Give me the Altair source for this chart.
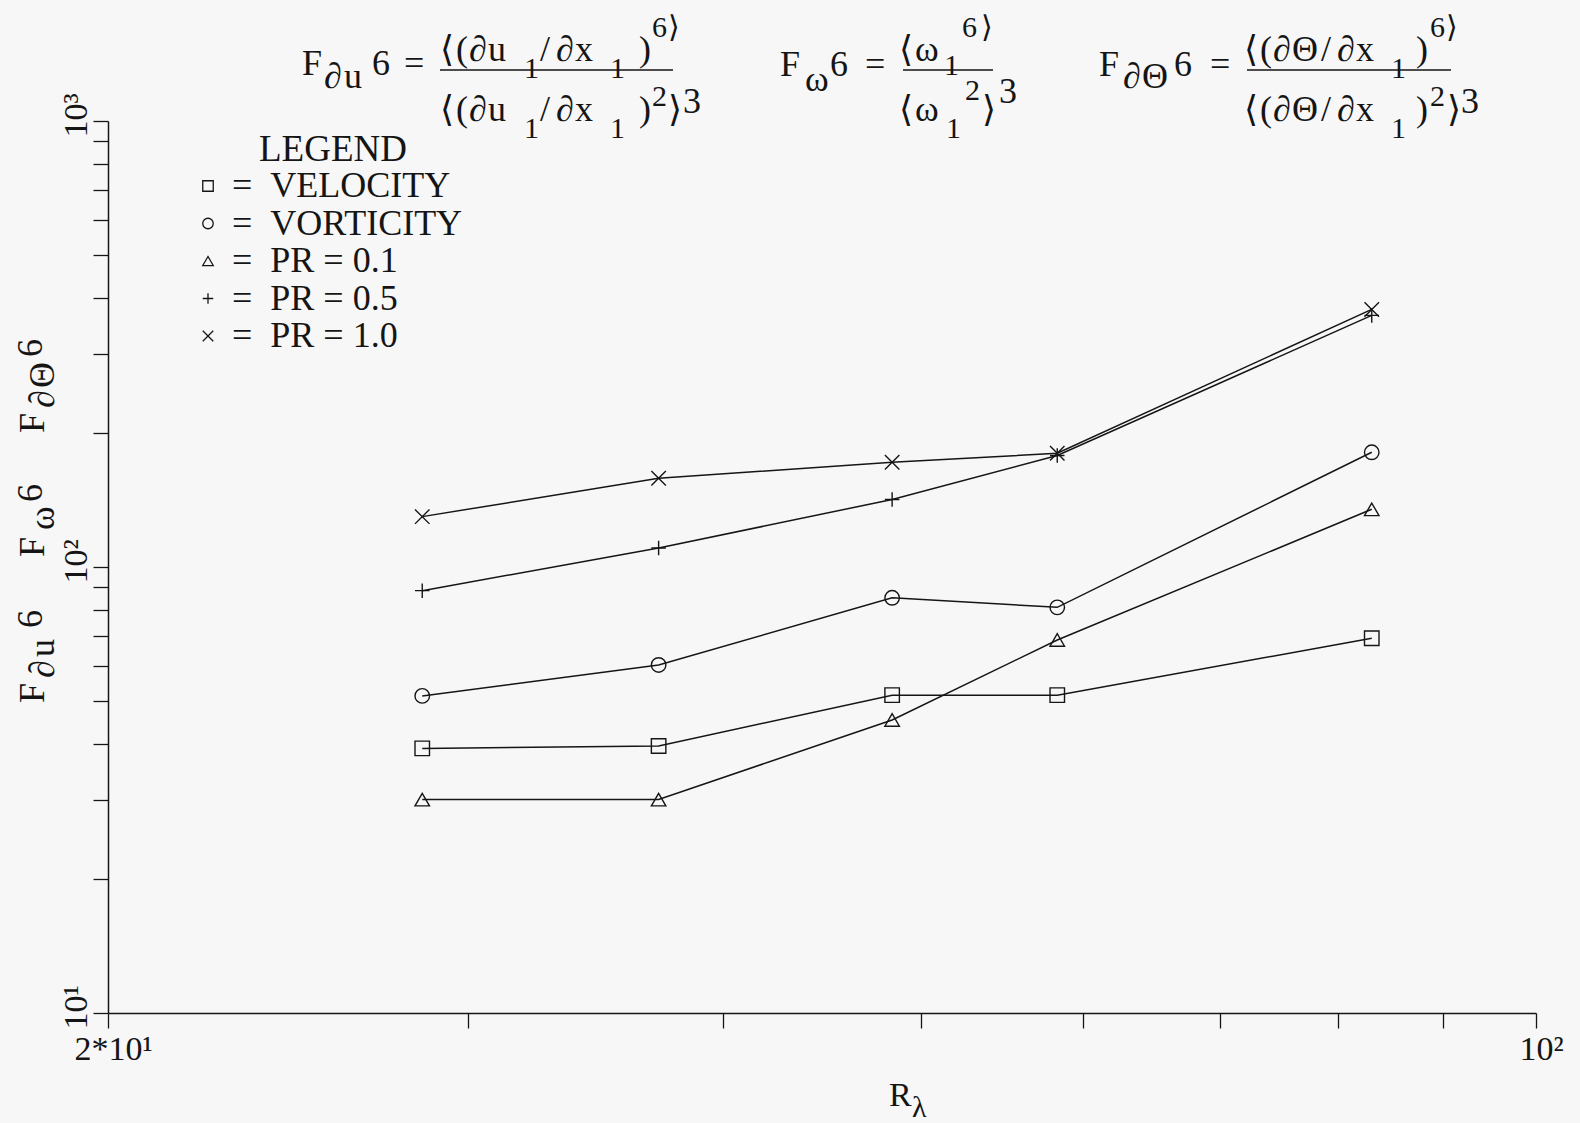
import altair as alt
import pandas as pd

# Taylor-microscale Reynolds numbers of the five simulations
r_lambda = [28.5, 37.2, 48.4, 58.3, 83.1]

# sixth-order normalized moments (flatness F6) of the derivative fields
velocity = [39.2, 39.7, 51.6, 51.6, 69.2]
vorticity = [51.4, 60.3, 85.3, 81.2, 180.8]
pr_01 = [30.1, 30.1, 45.4, 68.6, 134.7]
pr_05 = [88.5, 110.3, 141.7, 177.8, 366.5]
pr_10 = [129.7, 158.1, 171.7, 179.9, 378.1]

series_names = ["VELOCITY", "VORTICITY", "PR = 0.1", "PR = 0.5", "PR = 1.0"]
series_values = [velocity, vorticity, pr_01, pr_05, pr_10]

# marker shapes: square, circle, triangle, plus, cross
marker_shapes = [
    "square",
    "circle",
    "triangle-up",
    "M-1,0L1,0M0,-1L0,1",
    "M-1,-1L1,1M-1,1L1,-1",
]

x_ticks = [20, 30, 40, 50, 60, 70, 80, 90, 100]
y_ticks = [10, 20, 30, 40, 50, 60, 70, 80, 90,
           100, 200, 300, 400, 500, 600, 700, 800, 900, 1000]

rows = []
for name, vals in zip(series_names, series_values):
    for r, f in zip(r_lambda, vals):
        rows.append({"series": name, "re": r, "flat": f})
df = pd.DataFrame(rows)

# page geometry
LEFT, TOP = 108, 121
PLOT_W, PLOT_H = 1428, 892
FONT = "Liberation Serif, DejaVu Serif, serif"
INK = "#151515"
BG = "#f7f7f7"

M, S = 36, 30  # main and script sizes of the formula glyphs


def run(glyphs, y, size=M, angle=0):
    """glyphs: list of (text, x) placed on a common baseline y."""
    return [(t, x, y, size, angle) for t, x in glyphs]


pieces = []
# F_du^6 = <(du1/dx1)^6> / <(du1/dx1)^2>^3
pieces += run([("F", 302), ("6", 372), ("=", 404)], 75)
pieces += run([("∂", 324), ("u", 344)], 88)
pieces += run([("⟨", 440), ("(", 456), ("∂", 469), ("u", 488), ("/", 540),
               ("∂", 556), ("x", 575), (")", 639)], 61)
pieces += run([("1", 524), ("1", 610)], 78, S)
pieces += run([("6", 652), ("⟩", 668)], 37, S)
pieces += run([("⟨", 440), ("(", 456), ("∂", 469), ("u", 488), ("/", 540),
               ("∂", 556), ("x", 575), (")", 639), ("⟩", 668)], 121)
pieces += run([("1", 524), ("1", 610)], 138, S)
pieces += run([("2", 652)], 106, S)
pieces += run([("3", 683)], 113)
# F_w^6 = <w1^6> / <w1^2>^3
pieces += run([("F", 780), ("6", 830), ("=", 865)], 76)
pieces += run([("ω", 805)], 91)
pieces += run([("⟨", 899), ("ω", 915)], 61)
pieces += run([("1", 944)], 75, S)
pieces += run([("6", 962), ("⟩", 981)], 37, S)
pieces += run([("⟨", 899), ("ω", 915), ("⟩", 982)], 121)
pieces += run([("1", 946)], 138, S)
pieces += run([("2", 965)], 100, S)
pieces += run([("3", 999)], 103)
# F_dT^6 = <(dT/dx1)^6> / <(dT/dx1)^2>^3
pieces += run([("F", 1099), ("6", 1174), ("=", 1210)], 76)
pieces += run([("∂", 1123), ("Θ", 1142)], 88)
pieces += run([("⟨", 1244), ("(", 1260), ("∂", 1273), ("Θ", 1292), ("/", 1321),
               ("∂", 1337), ("x", 1356), (")", 1416)], 61)
pieces += run([("1", 1391)], 78, S)
pieces += run([("6", 1430), ("⟩", 1446)], 37, S)
pieces += run([("⟨", 1244), ("(", 1260), ("∂", 1273), ("Θ", 1292), ("/", 1321),
               ("∂", 1337), ("x", 1356), (")", 1416), ("⟩", 1447)], 121)
pieces += run([("1", 1391)], 138, S)
pieces += run([("2", 1430)], 106, S)
pieces += run([("3", 1461)], 113)
# rotated y-axis title (x is the baseline column, y where each glyph starts)
pieces += [(t, 44, y, M, 270) for t, y in [("F", 703), ("F", 557), ("F", 433)]]
pieces += [(t, 42, y, M, 270) for t, y in [("6", 628), ("6", 502), ("6", 357)]]
pieces += [(t, 54, y, M, 270) for t, y in [("∂", 678), ("u", 657), ("ω", 530),
                                          ("∂", 408), ("Θ", 388)]]
# x-axis title
pieces += [("R", 889, 1106, 34, 0), ("λ", 912, 1117, 30, 0)]
# legend heading
pieces += [("LEGEND", 259, 161, 37, 0)]

ann = pd.DataFrame(pieces, columns=["text", "gx", "gy", "fs", "ang"])
ann["px"] = ann["gx"] - LEFT
ann["py"] = ann["gy"] - TOP

# fraction bars
bars = pd.DataFrame({"gx1": [440, 903, 1247], "gx2": [673, 993, 1451], "gy": [70, 70, 70]})
bars["px1"] = bars["gx1"] - LEFT
bars["px2"] = bars["gx2"] - LEFT
bars["py"] = bars["gy"] - TOP

x_enc = alt.X(
    "re:Q",
    scale=alt.Scale(type="log", domain=[20, 100], nice=False),
    axis=alt.Axis(
        title=None,
        values=x_ticks,
        labelExpr="datum.value == 20 ? '2*10¹' : datum.value == 100 ? '10²' : ''",
        labelFlush=False,
        labelOverlap=False,
        labelPadding=4,
        labelOffset=5,
    ),
)
y_enc = alt.Y(
    "flat:Q",
    scale=alt.Scale(type="log", domain=[10, 1000], nice=False),
    axis=alt.Axis(
        title=None,
        values=y_ticks,
        labelExpr="datum.value == 10 ? '10¹' : datum.value == 100 ? '10²' : datum.value == 1000 ? '10³' : ''",
        labelAngle=270,
        labelAlign="center",
        labelBaseline="alphabetic",
        labelFlush=False,
        labelOverlap=False,
        labelPadding=7,
        labelOffset=-6,
    ),
)

lines = alt.Chart(df).mark_line(color=INK, strokeWidth=1.5).encode(
    x=x_enc, y=y_enc, detail="series:N"
)

points = alt.Chart(df).mark_point(
    filled=False, size=210, strokeWidth=1.4, color=INK, opacity=1
).encode(
    x=x_enc,
    y=y_enc,
    shape=alt.Shape(
        "series:N",
        scale=alt.Scale(domain=series_names, range=marker_shapes),
        legend=alt.Legend(
            title=None,
            orient="none",
            legendX=82,
            legendY=47,
            padding=0,
            labelFont=FONT,
            labelFontSize=36,
            labelColor=INK,
            labelExpr="'=\u2002' + datum.label",
            labelOffset=6,
            labelLimit=0,
            symbolSize=110,
            symbolStrokeWidth=1.3,
            symbolStrokeColor=INK,
            symbolFillColor="transparent",
            rowPadding=1.5,
        ),
    ),
)

text_layer = alt.Chart(ann).mark_text(
    align="left", baseline="alphabetic", font=FONT, color=INK
).encode(
    x=alt.X("px:Q", scale=None),
    y=alt.Y("py:Q", scale=None),
    text="text:N",
    size=alt.Size("fs:Q", scale=None),
    angle=alt.Angle("ang:Q", scale=None),
)

bar_layer = alt.Chart(bars).mark_rule(color=INK, strokeWidth=1.5).encode(
    x=alt.X("px1:Q", scale=None),
    x2="px2:Q",
    y=alt.Y("py:Q", scale=None),
)

chart = (
    alt.layer(lines, points, text_layer, bar_layer)
    .properties(
        width=PLOT_W,
        height=PLOT_H,
        background=BG,
        padding={"left": LEFT, "top": TOP, "right": 1580 - LEFT - PLOT_W, "bottom": 1123 - TOP - PLOT_H},
        autosize=alt.AutoSizeParams(type="none"),
    )
    .configure_view(strokeWidth=0)
    .configure_axis(
        grid=False,
        domainColor=INK,
        domainWidth=1.5,
        tickColor=INK,
        tickWidth=1.3,
        tickSize=15,
        labelFont=FONT,
        labelFontSize=34,
        labelColor=INK,
    )
)

chart.save("out.html", embed_options={"renderer": "svg", "actions": False})
